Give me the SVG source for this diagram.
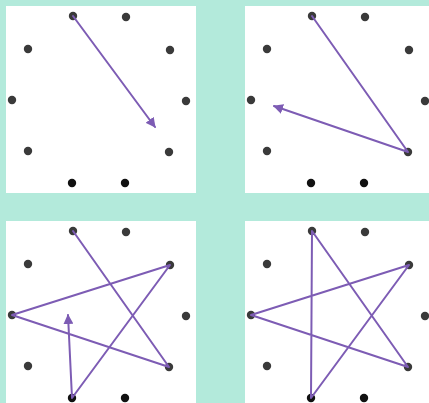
<svg xmlns="http://www.w3.org/2000/svg" width="429" height="403" viewBox="0 0 429 403">
<style>
.panel{fill:#ffffff}
.dot{fill:#3a3a3a}
.dotb{fill:#111111}
.ln{stroke:#7d5cb4;stroke-width:2;fill:none;stroke-linecap:round;stroke-linejoin:round}
</style>
<defs>
<marker id="ah" viewBox="0 0 10 10" refX="9" refY="5" markerWidth="5" markerHeight="5" orient="auto" markerUnits="strokeWidth">
<path d="M0,0 L10,5 L0,10 z" fill="#7d5cb4"/>
</marker>
<g id="dots">
<circle class="dot" cx="0" cy="0" r="4.2"/>
<circle class="dot" cx="53" cy="1" r="4.2"/>
<circle class="dot" cx="-45" cy="33" r="4.2"/>
<circle class="dot" cx="97" cy="34" r="4.2"/>
<circle class="dot" cx="-61" cy="84" r="4.2"/>
<circle class="dot" cx="113" cy="85" r="4.2"/>
<circle class="dot" cx="-45" cy="135" r="4.2"/>
<circle class="dot" cx="96" cy="136" r="4.2"/>
<circle class="dotb" cx="-1" cy="167" r="4.2"/>
<circle class="dotb" cx="52" cy="167" r="4.2"/>
</g>
</defs>
<rect width="429" height="403" fill="#b3eadb"/>
<g id="panel1">
<rect class="panel" x="6" y="6" width="190" height="187"/>
<use href="#dots" x="73" y="16"/>
</g>
<g id="panel2">
<rect class="panel" x="245" y="6" width="184" height="187"/>
<use href="#dots" x="312" y="16"/>
</g>
<g id="panel3">
<rect class="panel" x="6" y="221" width="190" height="182"/>
<use href="#dots" x="73" y="231"/>
</g>
<g id="panel4">
<rect class="panel" x="245" y="221" width="184" height="182"/>
<use href="#dots" x="312" y="231"/>
</g>
<g id="connectors">
<path class="ln" d="M73,16 L155,127" marker-end="url(#ah)"/>
<path class="ln" d="M312,16 L408,152 L274,106" marker-end="url(#ah)"/>
<path class="ln" d="M73,231 L169,367 L12,315 L170,265 L72,398 L68,315" marker-end="url(#ah)"/>
<path class="ln" d="M312,231 L408,367 L251,315 L409,265 L311,398 Z"/>
</g>
</svg>
